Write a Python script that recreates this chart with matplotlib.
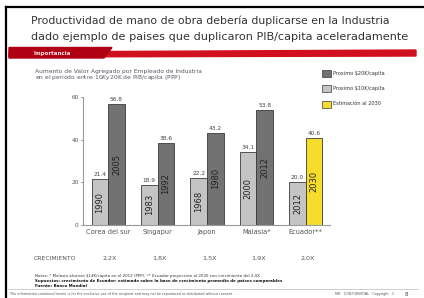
import numpy as np
import matplotlib.pyplot as plt
from matplotlib.patches import Polygon, Rectangle
from matplotlib.lines import Line2D

# data
paises = ["Corea del sur", "Singapur", "Japon", "Malasia*", "Ecuador**"]
val_10k = [21.4, 18.9, 22.2, 34.1, 20.0]
val_20k = [56.8, 38.6, 43.2, 53.8, 40.6]
anio_10k = ["1990", "1983", "1968", "2000", "2012"]
anio_20k = ["2005", "1992", "1980", "2012", "2030"]
crecimiento = ["2,2X", "1,8X", "1,5X", "1,9X", "2,0X"]
yticks = [0, 20, 40, 60]
leyenda = ["Proximo $20K/capita", "Proximo $10K/capita", "Estimación al 2030"]

W, H = 424, 298
C_LIGHT, C_DARK, C_YEL, C_EDGE = "#c4c4c4", "#727272", "#f6dd2c", "#3a3a3a"


def px(x, y):
    return x / W, 1 - y / H


fig = plt.figure(figsize=(W / 100, H / 100), dpi=100)
fig.patch.set_facecolor("white")

# slide frame
fig.add_artist(Line2D([6 / W, 1], [1 - 7 / H] * 2, color="black", lw=1.6))
fig.add_artist(Line2D([6 / W] * 2, [0, 1 - 7 / H], color="black", lw=1.6))

# title
fig.text(*px(31, 23.5), "Productividad de mano de obra debería duplicarse en la Industria",
         fontsize=7.8, color="#333333", va="baseline")
fig.text(*px(31, 40.5), "dado ejemplo de paises que duplicaron PIB/capita aceleradamente",
         fontsize=8.1, color="#333333", va="baseline")

# red banner
band = [px(9, 52), px(416, 50), px(416, 56), px(9, 57)]
fig.add_artist(Polygon(band, closed=True, color="#d0101e", transform=fig.transFigure))
tab = [px(9, 47.5), px(112, 47.5), px(104, 58), px(9, 58)]
fig.add_artist(Polygon(tab, closed=True, color="#b00014", transform=fig.transFigure))
fig.text(*px(33, 53), "Importancia", fontsize=4, color="#ffe6e6", va="center", weight="bold")

# chart subtitle
fig.text(*px(35, 71), "Aumento de Valor Agregado por Empleado de Industria",
         fontsize=4.3, color="#555566", va="center")
fig.text(*px(35, 77.5), "en el periodo entre $10K y $20K de PIB/capita (PPP)",
         fontsize=4.3, color="#555566", va="center")

# bar chart
l, b = px(83, 225)
r, t = px(330, 97)
ax = fig.add_axes([l, b, r - l, t - b])
x = np.arange(len(paises))
w = 0.335
top_colors = [C_DARK] * (len(paises) - 1) + [C_YEL]
ax.bar(x - w / 2, val_10k, w, color=C_LIGHT, edgecolor=C_EDGE, lw=0.6)
ax.bar(x + w / 2, val_20k, w, color=top_colors, edgecolor=C_EDGE, lw=0.6)
for i in range(len(paises)):
    for xx, v, yr in ((x[i] - w / 2, val_10k[i], anio_10k[i]), (x[i] + w / 2, val_20k[i], anio_20k[i])):
        ax.text(xx, v + 1.0, f"{v:.1f}", ha="center", va="bottom", fontsize=4.2,
                color="#444444", clip_on=False)
        ax.text(xx, v / 2, yr, ha="center", va="center", rotation=90, fontsize=6.0,
                color="#222222")

ax.set_xlim(-0.51, 4.49)
ax.set_ylim(0, 60)
ax.set_yticks(yticks)
ax.set_xticks(x)
ax.set_xticklabels(paises)
ax.tick_params(axis="y", labelsize=4.2, length=1.5, width=0.5, colors="#555555", pad=1.5)
ax.tick_params(axis="x", labelsize=4.8, length=0, colors="#555555", pad=3)
for s in ("top", "right"):
    ax.spines[s].set_visible(False)
ax.spines["left"].set_color("#999999")
ax.spines["bottom"].set_color("#999999")
ax.spines["left"].set_linewidth(0.8)
ax.spines["bottom"].set_linewidth(0.8)
ax.set_facecolor("none")

# legend
for k, (lab, c) in enumerate(zip(leyenda, [C_DARK, C_LIGHT, C_YEL])):
    y0 = 73 + k * 15.5
    fig.add_artist(Rectangle(px(322, y0 + 3.5), 9 / W, 7 / H, facecolor=c,
                             edgecolor=C_EDGE, lw=0.5, transform=fig.transFigure))
    fig.text(*px(333, y0), lab, fontsize=3.6, color="#333333", va="center")

# growth row
fig.text(*px(55, 258), "CRECIMIENTO", fontsize=4.4, color="#555555", ha="center", va="center")
for i, g in enumerate(crecimiento):
    xf = ax.transData.transform((x[i], 0))[0] / fig.dpi / fig.get_figwidth()
    fig.text(xf + 2 / W, 1 - 258 / H, g, fontsize=4.6, color="#555555", ha="center", va="center")

# notes
fig.text(*px(35, 276), "Notas: * Malasia alcanzó $14K/capita en el 2012 (PPP); ** Ecuador proyección al 2030 con crecimiento del 2,0X",
         fontsize=2.9, color="#333333", va="center")
fig.text(*px(35, 281), "Supuestos: crecimiento de Ecuador: estimado sobre la base de crecimiento promedio de países comparables",
         fontsize=2.9, color="#111111", va="center", weight="bold")
fig.text(*px(35, 286), "Fuente: Banco Mundial", fontsize=2.9, color="#111111", va="center", weight="bold")

# footer
fig.add_artist(Line2D([8 / W, 418 / W], [1 - 289 / H] * 2, color="#bbbbbb", lw=0.5))
fig.text(*px(10, 294.5), "The information contained herein is for the exclusive use of the recipient and may not be reproduced or distributed without consent",
         fontsize=2.4, color="#555555", va="center")
fig.text(*px(335, 294.5), "MR   CONFIDENTIAL   Copyright   1  ", fontsize=2.4, color="#555555", va="center")
fig.text(*px(405, 294.5), "8", fontsize=4, color="#444444", va="center")

fig.savefig("out.png", dpi=100)
